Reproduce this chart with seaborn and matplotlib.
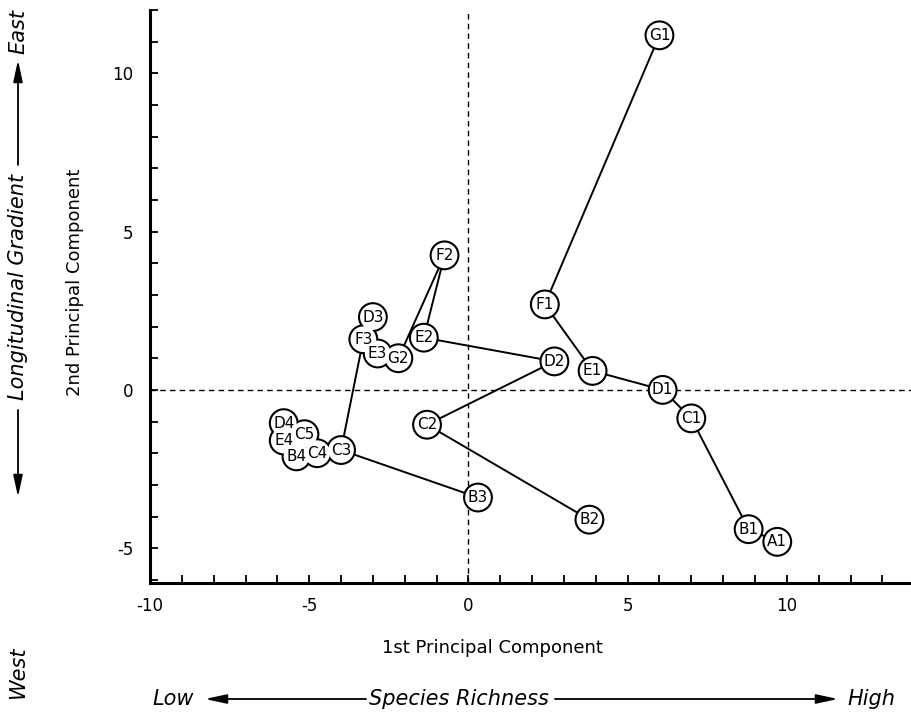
import matplotlib
matplotlib.use("Agg")
import matplotlib.pyplot as plt
import seaborn as sns
import pandas as pd
from matplotlib.ticker import MultipleLocator

# ---- data ----
labels = ["G1", "F1", "E1", "D1", "C1", "B1", "A1",
          "G2", "F2", "E2", "D2", "C2", "B2",
          "D3", "E3", "F3", "C3", "B3",
          "D4", "E4", "B4", "C4",
          "C5"]
pc1 = [6.0, 2.4, 3.9, 6.1, 7.0, 8.8, 9.7,
       -2.2, -0.75, -1.4, 2.7, -1.3, 3.8,
       -3.0, -2.85, -3.3, -4.0, 0.3,
       -5.8, -5.8, -5.4, -4.75,
       -5.15]
pc2 = [11.2, 2.7, 0.6, 0.0, -0.9, -4.4, -4.8,
       1.0, 4.25, 1.65, 0.9, -1.1, -4.1,
       2.3, 1.15, 1.6, -1.9, -3.4,
       -1.05, -1.6, -2.1, -2.0,
       -1.4]
group = [1] * 7 + [2] * 6 + [3] * 5 + [4] * 4 + [5]

x_ticks = [-10, -5, 0, 5, 10]
y_ticks = [-5, 0, 5, 10]

df = pd.DataFrame({"label": labels, "pc1": pc1, "pc2": pc2, "group": group})

sns.set_style("ticks")
plt.rcParams["font.family"] = ["DejaVu Sans"]
plt.rcParams["text.color"] = "black"
plt.rcParams["xtick.color"] = "black"
plt.rcParams["ytick.color"] = "black"
plt.rcParams["xtick.labelcolor"] = "black"
plt.rcParams["ytick.labelcolor"] = "black"

W, H = 911, 717
fig = plt.figure(figsize=(W / 100, H / 100), dpi=100)
ax = fig.add_axes([150 / W, 1 - 583 / H, 761 / W, 573 / H])

# reference lines
ax.axvline(0, color="black", lw=1.0, ls=(0, (4, 3)), zorder=1)
ax.axhline(0, color="black", lw=1.0, ls=(0, (4, 3)), zorder=1)

# connecting lines per group
for g, sub in df.groupby("group"):
    sns.lineplot(data=sub, x="pc1", y="pc2", sort=False, estimator=None,
                 color="black", lw=1.4, ax=ax, zorder=2, legend=False)

# circles: black outline layer then white fill layer (union outline)
d = 18.5
sns.scatterplot(data=df, x="pc1", y="pc2", s=(d + 3) ** 2, color="black",
                edgecolor="none", ax=ax, zorder=3, legend=False)
sns.scatterplot(data=df, x="pc1", y="pc2", s=d ** 2, color="white",
                edgecolor="none", ax=ax, zorder=4, legend=False)
for lab, xv, yv in zip(df["label"], df["pc1"], df["pc2"]):
    ax.text(xv, yv, lab, ha="center", va="center", fontsize=11,
            color="black", zorder=5)

ax.set_xlim(-10, 13.9)
ax.set_ylim(-6.1, 12)
ax.xaxis.set_minor_locator(MultipleLocator(1))
ax.yaxis.set_minor_locator(MultipleLocator(1))
ax.set_xticks(x_ticks)
ax.set_xticklabels([str(v) for v in x_ticks])
ax.set_yticks(y_ticks)
ax.set_yticklabels([str(v) for v in y_ticks])
ax.tick_params(which="both", direction="in", length=6, width=1.3,
               color="black", labelcolor="black", top=False, right=False)
ax.tick_params(axis="x", which="major", labelsize=12, pad=10)
ax.tick_params(axis="y", which="major", labelsize=12, pad=12)

for side in ["top", "right"]:
    ax.spines[side].set_visible(False)
for side in ["left", "bottom"]:
    ax.spines[side].set_linewidth(2.2)
    ax.spines[side].set_color("black")

ax.set_xlabel("")
ax.set_ylabel("")


def fx(px):
    return px / W


def fy(py):
    return 1 - py / H


fig.text(fx(492), fy(648), "1st Principal Component", ha="center",
         va="center", fontsize=13)
fig.text(fx(75), fy(282), "2nd Principal Component", ha="center",
         va="center", rotation=90, fontsize=13)

arrow_kw = dict(arrowstyle="-|>,head_length=1.3,head_width=0.28",
                color="black", lw=1.3, shrinkA=0, shrinkB=0)

# bottom annotation
by = 699
fig.text(fx(173), fy(by), "Low", ha="center", va="center", fontsize=15,
         style="italic")
fig.text(fx(459), fy(by), "Species Richness", ha="center", va="center",
         fontsize=15, style="italic")
fig.text(fx(871), fy(by), "High", ha="center", va="center", fontsize=15,
         style="italic")
ax.annotate("", xy=(fx(205), fy(by)), xytext=(fx(366), fy(by)),
            xycoords="figure fraction", textcoords="figure fraction",
            arrowprops=arrow_kw, annotation_clip=False)
ax.annotate("", xy=(fx(838), fy(by)), xytext=(fx(555), fy(by)),
            xycoords="figure fraction", textcoords="figure fraction",
            arrowprops=arrow_kw, annotation_clip=False)

# left annotation
lx = 18
fig.text(fx(lx), fy(32), "East", ha="center", va="center", fontsize=15,
         style="italic", rotation=90)
fig.text(fx(lx), fy(287), "Longitudinal Gradient", ha="center",
         va="center", fontsize=15, style="italic", rotation=90)
fig.text(fx(lx), fy(672), "West", ha="center", va="center", fontsize=15,
         style="italic", rotation=90)
ax.annotate("", xy=(fx(lx), fy(60)), xytext=(fx(lx), fy(165)),
            xycoords="figure fraction", textcoords="figure fraction",
            arrowprops=arrow_kw, annotation_clip=False)
ax.annotate("", xy=(fx(lx), fy(497)), xytext=(fx(lx), fy(410)),
            xycoords="figure fraction", textcoords="figure fraction",
            arrowprops=arrow_kw, annotation_clip=False)

fig.savefig("out.png", dpi=100, facecolor="white")
